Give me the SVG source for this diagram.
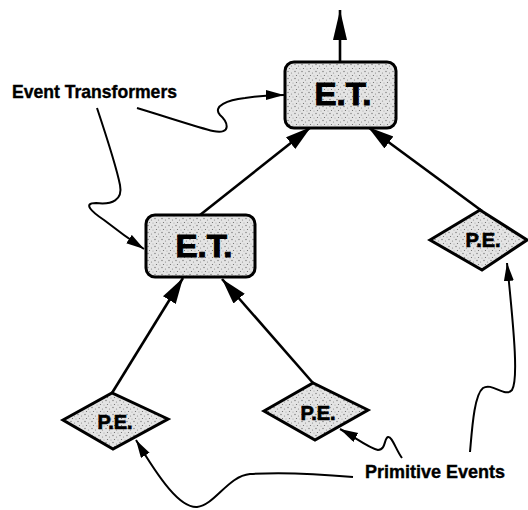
<svg xmlns="http://www.w3.org/2000/svg" width="528" height="510" viewBox="0 0 528 510">
  <defs>
    <!-- stippled grey fill for the nodes -->
    <pattern id="stipple" width="7" height="7" patternUnits="userSpaceOnUse">
      <rect width="7" height="7" fill="#e4e4e4"/>
      <circle cx="1" cy="1.5" r="0.7" fill="#777"/>
      <circle cx="4.5" cy="3" r="0.6" fill="#888"/>
      <circle cx="2.5" cy="5.5" r="0.6" fill="#666"/>
      <circle cx="6" cy="6" r="0.5" fill="#999"/>
    </pattern>
    <marker id="head" markerUnits="userSpaceOnUse" markerWidth="28" markerHeight="16" refX="26" refY="7.5" orient="auto">
      <path d="M0,0 L26,7.5 L0,15 Z" fill="#000"/>
    </marker>
    <marker id="headLong" markerUnits="userSpaceOnUse" markerWidth="32" markerHeight="16" refX="30" refY="7" orient="auto">
      <path d="M0,0 L30,7 L0,14 Z" fill="#000"/>
    </marker>
    <marker id="note" markerUnits="userSpaceOnUse" markerWidth="20" markerHeight="12" refX="18" refY="5" orient="auto">
      <path d="M0,0 L18,5 L0,10 Z" fill="#000"/>
    </marker>
  </defs>
  <style>
    .box { fill: url(#stipple); stroke: #000; stroke-width: 3; }
    .edge { fill: none; stroke: #000; stroke-width: 2.6; }
    .callout { fill: none; stroke: #000; stroke-width: 2; }
    .big { font-family: "Liberation Sans", Arial, sans-serif; font-weight: bold; font-size: 32px; fill: #000; stroke: #000; stroke-width: 1; text-anchor: middle; }
    .small { font-family: "Liberation Sans", Arial, sans-serif; font-weight: bold; font-size: 20px; fill: #000; stroke: #000; stroke-width: 0.7; text-anchor: middle; }
    .label { font-family: "Liberation Sans", Arial, sans-serif; font-weight: bold; font-size: 19px; fill: #000; stroke: #000; stroke-width: 0.4; }
  </style>

  <!-- connectors -->
  <g id="connectors">
    <line class="edge" x1="340" y1="62" x2="340" y2="10" marker-end="url(#headLong)"/>
    <line class="edge" x1="200" y1="215" x2="311" y2="127" marker-end="url(#head)"/>
    <line class="edge" x1="482" y1="211" x2="368" y2="127" marker-end="url(#head)"/>
    <line class="edge" x1="112" y1="393" x2="183" y2="278" marker-end="url(#head)"/>
    <line class="edge" x1="313" y1="383" x2="222" y2="279" marker-end="url(#head)"/>

    <!-- callouts from the labels -->
    <path class="callout" d="M137,108 C170,118 200,128 213,131 C232,135 228,122 220,115 C212,106 228,100 245,98 C258,96 270,95 284,95" marker-end="url(#note)"/>
    <path class="callout" d="M97,108 C106,135 116,165 120,185 C123,200 112,205 96,203 C82,203 92,212 104,220 C118,231 132,241 144,249" marker-end="url(#note)"/>
    <path class="callout" d="M353,477 C320,474 280,472 250,474 C228,476 215,505 197,507 C180,508 160,480 136,440" marker-end="url(#note)"/>
    <path class="callout" d="M402,458 C396,450 392,436 388,437 C384,438 386,450 378,450 C368,448 355,437 340,429" marker-end="url(#note)"/>
    <path class="callout" d="M470,452 C472,430 474,395 483,388 C492,382 505,398 512,390 C518,380 515,340 507,263" marker-end="url(#note)"/>
  </g>

  <g id="et-top">
    <rect class="box" x="285" y="62" width="111" height="66" rx="9"/>
    <text class="big" x="343" y="105" textLength="57" lengthAdjust="spacingAndGlyphs">E.T.</text>
  </g>

  <g id="et-left">
    <rect class="box" x="146" y="215" width="109" height="62" rx="9"/>
    <text class="big" x="204" y="257" textLength="57" lengthAdjust="spacingAndGlyphs">E.T.</text>
  </g>

  <g id="pe-right">
    <polygon class="box" points="430,240 480,210 527,240 482,270"/>
    <text class="small" x="483" y="247">P.E.</text>
  </g>

  <g id="pe-left">
    <polygon class="box" points="63,420 112,393 168,419 113,449"/>
    <text class="small" x="115" y="429">P.E.</text>
  </g>

  <g id="pe-middle">
    <polygon class="box" points="264,411 313,383 368,410 315,440"/>
    <text class="small" x="318" y="420">P.E.</text>
  </g>

  <g id="label-transformers">
    <text class="label" x="12" y="98" textLength="165" lengthAdjust="spacingAndGlyphs">Event Transformers</text>
  </g>

  <g id="label-primitive">
    <text class="label" x="365" y="478" textLength="140" lengthAdjust="spacingAndGlyphs">Primitive Events</text>
  </g>
</svg>
